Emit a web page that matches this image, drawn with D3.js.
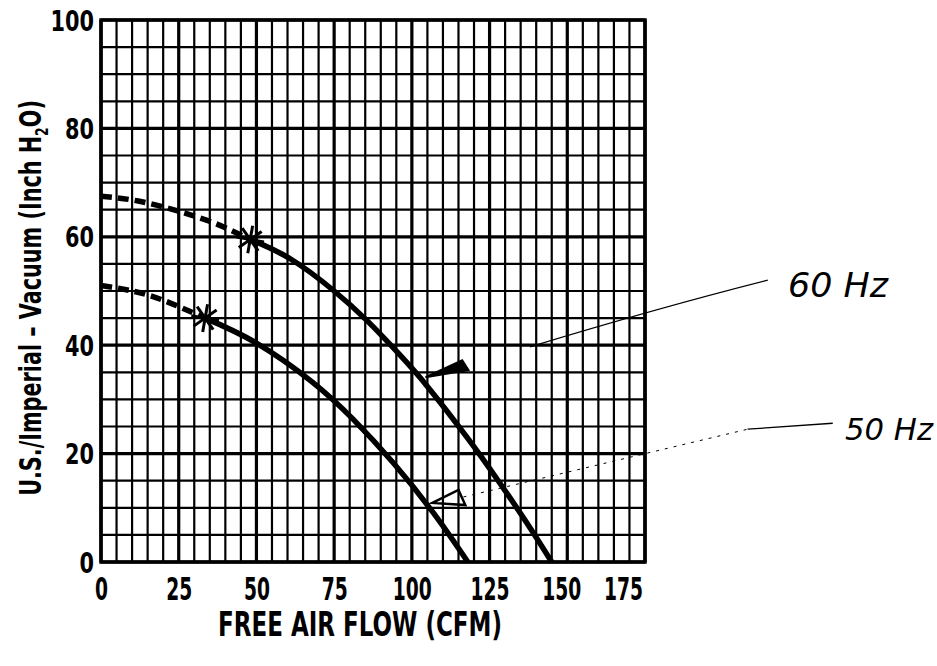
<!DOCTYPE html>
<html>
<head>
<meta charset="utf-8">
<script src="https://cdn.jsdelivr.net/npm/d3@7"></script>
<style>
  body { margin: 0; background: #fff; }
  svg { display: block; }
  .tick-lbl { font-family: "DejaVu Sans", "Liberation Sans", sans-serif; font-weight: bold; fill: #000; }
  .hand { font-family: "DejaVu Sans", "Noto Sans", sans-serif; font-style: italic; font-weight: 200; fill: #000; }
</style>
</head>
<body>
<svg id="chart" width="937" height="666"></svg>
<script>
// tick values
var xTicks = [0, 25, 50, 75, 100, 125, 150, 175];
var yTicks = [0, 20, 40, 60, 80, 100];

// 60 Hz curve: dashed part up to the star, then solid
var hz60Dashed = [[0, 67.5], [12, 66.6], [25, 64.7], [37, 62.4], [48, 59.5]];
var hz60Solid = [[48, 59.5], [61, 55.9], [75, 50], [86, 44.3], [96, 38.3], [105, 32.4],
                 [118, 22.8], [128, 14.8], [137, 7.2], [145, 0]];

// 50 Hz curve
var hz50Dashed = [[0, 51], [10, 50], [20, 48.3], [33.5, 45]];
var hz50Solid = [[33.5, 45], [50, 40.4], [68, 33.2], [81, 26.4], [94, 18.3], [107, 9], [118, 0]];

var stars = [[48, 59.5], [33.5, 45]];

var svg = d3.select('#chart');
var x = d3.scaleLinear().domain([0, 175]).range([101, 645]);
var y = d3.scaleLinear().domain([0, 100]).range([562, 20]);

// grid: every 5 units, heavier every 25 CFM / 20 inch
var grid = svg.append('g');
d3.range(0, 176, 5).forEach(function (v) {
    grid.append('line')
        .attr('x1', x(v)).attr('x2', x(v))
        .attr('y1', y(0)).attr('y2', y(100))
        .attr('stroke', '#000')
        .attr('stroke-width', v % 25 === 0 ? 3.2 : 2.2);
});
d3.range(0, 101, 5).forEach(function (v) {
    grid.append('line')
        .attr('x1', x(0)).attr('x2', x(175))
        .attr('y1', y(v)).attr('y2', y(v))
        .attr('stroke', '#000')
        .attr('stroke-width', v % 20 === 0 ? 3.2 : 2.2);
});
grid.append('rect')
    .attr('x', x(0)).attr('y', y(100))
    .attr('width', x(175) - x(0)).attr('height', y(0) - y(100))
    .attr('fill', 'none').attr('stroke', '#000').attr('stroke-width', 3.5);

// squeeze text to look like the condensed face of the original
function squeeze(sel, perChar) {
    sel.attr('textLength', function () { return this.textContent.length * perChar; })
        .attr('lengthAdjust', 'spacingAndGlyphs');
}

// axes (labels only)
var xAxis = svg.append('g')
    .attr('transform', 'translate(0,' + (y(0) + 8) + ')')
    .call(d3.axisBottom(x).tickValues(xTicks).tickSize(0).tickFormat(d3.format('d')));
xAxis.select('.domain').remove();
xAxis.selectAll('text')
    .attr('class', 'tick-lbl')
    .style('font-size', '32px')
    .attr('dy', '0.84em')
    .attr('dx', function (d) { return d === 175 ? -22 : d === 150 ? -6 : 0; })
    .call(squeeze, 13);

var yAxis = svg.append('g')
    .attr('transform', 'translate(' + (x(0) - 4) + ',0)')
    .call(d3.axisLeft(y).tickValues(yTicks).tickSize(0).tickFormat(d3.format('d')));
yAxis.select('.domain').remove();
yAxis.selectAll('text')
    .attr('class', 'tick-lbl')
    .style('font-size', '29px')
    .attr('dy', '0.35em')
    .call(squeeze, 14.5);

// axis titles
svg.append('text')
    .attr('class', 'tick-lbl')
    .attr('x', 360).attr('y', 636)
    .attr('text-anchor', 'middle')
    .style('font-size', '33px')
    .attr('textLength', 284).attr('lengthAdjust', 'spacingAndGlyphs')
    .text('FREE AIR FLOW (CFM)');

// y title: condensed by a horizontal scale so its box stays inside the page
var yt = svg.append('text')
    .attr('class', 'tick-lbl')
    .attr('text-anchor', 'middle')
    .style('font-size', '30px');
yt.append('tspan').text('U.S./Imperial \u2013 Vacuum (Inch H');
yt.append('tspan').attr('dy', 7).style('font-size', '18px').text('2');
yt.append('tspan').attr('dy', -7).text('O)');
var ytScale = 396 / yt.node().getComputedTextLength();
yt.attr('transform', 'translate(41,298) rotate(-90) scale(' + ytScale + ',1)');

// curves
var line = d3.line()
    .x(function (d) { return x(d[0]); })
    .y(function (d) { return y(d[1]); })
    .curve(d3.curveNatural);

[[hz60Dashed, true], [hz60Solid, false], [hz50Dashed, true], [hz50Solid, false]].forEach(function (s) {
    svg.append('path')
        .attr('d', line(s[0]))
        .attr('fill', 'none')
        .attr('stroke', '#000')
        .attr('stroke-width', 5.5)
        .attr('stroke-dasharray', s[1] ? '11,6' : null);
});

// asterisks at the start of the solid part
stars.forEach(function (p) {
    var g = svg.append('g').attr('transform', 'translate(' + x(p[0]) + ',' + y(p[1]) + ')');
    [10, 55, 100, 145].forEach(function (a) {
        var r = 14, t = a * Math.PI / 180;
        g.append('line')
            .attr('x1', -r * Math.cos(t)).attr('y1', -r * Math.sin(t))
            .attr('x2', r * Math.cos(t)).attr('y2', r * Math.sin(t))
            .attr('stroke', '#000').attr('stroke-width', 3);
    });
});

// hand-drawn callouts
function pt(d) { return x(d[0]) + ',' + y(d[1]); }

svg.append('path')
    .attr('d', 'M' + pt([104.4, 34.1]) + 'L' + pt([116.2, 37.2]) + 'L' + pt([118.2, 35.4]) + 'Z')
    .attr('fill', '#000').attr('stroke', '#000').attr('stroke-width', 2);
svg.append('path')
    .attr('d', 'M' + pt([138, 39.7]) + 'Q' + pt([180, 47]) + ' ' + pt([214.5, 52]))
    .attr('fill', 'none').attr('stroke', '#000').attr('stroke-width', 1.3);
svg.append('text')
    .attr('class', 'hand')
    .attr('x', 788).attr('y', 297)
    .style('font-size', '34px')
    .attr('textLength', 100).attr('lengthAdjust', 'spacingAndGlyphs')
    .text('60 Hz');

svg.append('path')
    .attr('d', 'M' + pt([106.6, 10.9]) + 'L' + pt([115, 13.3]) + 'L' + pt([117.2, 10.5]) + 'Z')
    .attr('fill', 'none').attr('stroke', '#000').attr('stroke-width', 2.5);
svg.append('path')
    .attr('d', 'M' + pt([116.6, 12]) + 'L' + pt([208, 24.5]))
    .attr('fill', 'none').attr('stroke', '#000').attr('stroke-width', 1)
    .attr('stroke-dasharray', '3,6');
svg.append('path')
    .attr('d', 'M' + pt([208, 24.5]) + 'L' + pt([235.4, 25.6]))
    .attr('fill', 'none').attr('stroke', '#000').attr('stroke-width', 1.3);
svg.append('text')
    .attr('class', 'hand')
    .attr('x', 845).attr('y', 440)
    .style('font-size', '30px')
    .attr('textLength', 88).attr('lengthAdjust', 'spacingAndGlyphs')
    .text('50 Hz');
</script>
</body>
</html>
